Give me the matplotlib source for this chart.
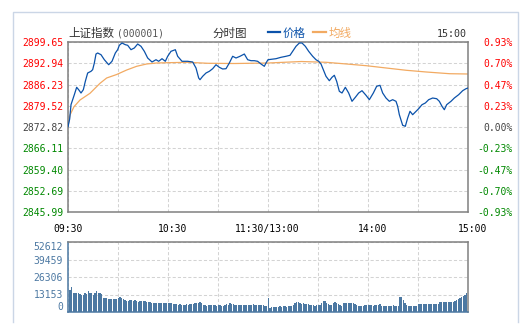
import matplotlib
matplotlib.use("Agg")
import matplotlib.pyplot as plt
from matplotlib.lines import Line2D
import matplotlib.transforms as mtransforms

# ---------------- data ----------------
price_minutes = [0, 1, 1.8, 3.8, 5.2, 6.4, 7.8, 9.2, 10.4, 11.8,
                 13.8, 14.8, 15.8, 16.8, 17.8, 19.8, 21.8, 24.4, 26.4, 28.4,
                 29.8, 30.8, 32.4, 34.4, 35.8, 37.8, 39.8, 41.8, 43.8, 45.8,
                 47.8, 50.4, 52.8, 54.4, 56.4, 58.4, 59.8, 61.8, 64.4, 65.8,
                 68.4, 71.8, 74.8, 76.8, 78.4, 79.2, 80.8, 82.8, 84.8, 86.8,
                 88.8, 90.8, 92.8, 94.8, 96.8, 98.8, 100.8, 103.2, 105.8, 107.8,
                 109.8, 111.8, 113.8, 115.8, 117.8, 118.8, 120, 124.8, 127.8, 130.8,
                 133.2, 134.8, 136.8, 138.8, 140.4, 142.4, 144.4, 146.8, 148.8, 150.4,
                 151.8, 153.2, 154.8, 156.8, 158.4, 159.8, 161.2, 162.8, 164.4, 166.4,
                 168.4, 170.4, 172.4, 174.4, 176.4, 178.8, 180.8, 183.2, 185.2, 187.2,
                 188.8, 190.8, 192.8, 194.8, 196.8, 197.8, 198.8, 200.8, 202.4, 203.8,
                 205.2, 206.8, 208.8, 210.4, 212.4, 214.4, 216.4, 218.8, 221.2, 222.8,
                 224.4, 225.8, 227.2, 229.8, 231.8, 234.4, 236.8, 238.8, 240]
price_values = [2872.90, 2875.35, 2879.86, 2883.02, 2885.35, 2884.59, 2883.55, 2884.59, 2887.24, 2889.86,
                2890.40, 2890.91, 2893.02, 2895.86, 2896.18, 2895.64, 2894.06, 2892.48, 2893.56, 2896.18,
                2897.22, 2898.61, 2899.33, 2898.80, 2898.61, 2897.22, 2897.76, 2899.02, 2898.29, 2896.71,
                2894.60, 2893.34, 2894.06, 2893.56, 2894.38, 2893.56, 2895.14, 2896.71, 2897.22, 2895.14,
                2893.56, 2893.56, 2893.34, 2891.44, 2888.29, 2887.75, 2888.82, 2889.86, 2890.40, 2891.22,
                2892.48, 2891.66, 2891.13, 2891.22, 2893.02, 2895.14, 2894.60, 2895.14, 2895.86, 2894.06,
                2893.75, 2893.75, 2893.56, 2892.71, 2891.98, 2893.02, 2894.06, 2894.38, 2894.82, 2895.14,
                2895.45, 2896.71, 2898.29, 2899.33, 2899.33, 2898.29, 2896.71, 2895.14, 2894.06, 2893.56,
                2892.71, 2890.91, 2888.82, 2887.43, 2888.51, 2889.14, 2887.24, 2884.09, 2883.55, 2885.35,
                2883.55, 2880.93, 2882.19, 2883.55, 2884.28, 2882.83, 2881.44, 2883.55, 2885.67, 2885.98,
                2883.55, 2881.97, 2880.93, 2881.44, 2880.93, 2879.35, 2876.70, 2873.36, 2873.04, 2875.66,
                2877.78, 2876.70, 2877.78, 2878.60, 2879.86, 2880.40, 2881.44, 2881.97, 2881.75, 2880.93,
                2879.35, 2878.28, 2879.86, 2880.93, 2881.97, 2883.02, 2884.28, 2884.91, 2885.13]

avg_minutes = [0, 1.2, 3.6, 7.2, 13.2, 19.2, 23.2, 29.2, 35.2, 41.2, 47.2, 53.2, 60,
               72, 84, 100, 120, 140, 155, 167, 179, 191, 203, 215, 229, 240]
avg_values = [2873.14, 2876.61, 2879.23, 2881.34, 2883.46, 2886.61, 2888.29, 2889.39, 2890.81,
              2891.98, 2892.71, 2893.02, 2893.12, 2893.24, 2892.93, 2892.86, 2893.02, 2893.49,
              2893.24, 2892.71, 2892.17, 2891.44, 2890.72, 2890.18, 2889.64, 2889.55]

volumes = [16500, 18500, 14000, 14000, 14200, 14200, 13500, 12800, 12800, 14000,
           13300, 15800, 14500, 14000, 12800, 14000, 15800, 14500, 14000, 13300,
           10800, 10300, 10300, 9800, 9800, 9500, 9500, 9500, 9500, 10300,
           11500, 10800, 9500, 9000, 8300, 8500, 9000, 9000, 8500, 9000,
           8500, 7800, 8500, 8300, 8300, 8300, 7800, 7800, 7800, 7000,
           6500, 6500, 6500, 6500, 7000, 6500, 7000, 6500, 7000, 6500,
           7000, 7000, 6000, 6000, 6000, 5300, 6000, 5300, 5300, 5300,
           6000, 5300, 6000, 6000, 6000, 6500, 6500, 7000, 7800, 6500,
           5300, 5300, 4500, 5300, 5300, 5300, 5300, 5300, 4500, 5300,
           5300, 4500, 4500, 5300, 6000, 5300, 6500, 6000, 6000, 5300,
           5300, 5000, 5300, 5600, 5300, 5000, 5300, 5300, 5600, 5300,
           6000, 5300, 5000, 5300, 5300, 5600, 5300,
           4500, 4500, 10300,
           2800, 3500, 3500, 4000, 3500, 4000, 4500, 4000, 4500, 4500,
           4000, 4500, 4500, 4500, 5500, 7000, 7800, 7800, 7000, 6000,
           6500, 6000, 6000, 6000, 5300, 5300, 5300, 4500, 5300, 5300,
           5300, 7000, 8300, 8300, 6500, 6000, 5300, 5300, 6500, 7800,
           7000, 6000, 5300, 4500, 7000, 7000, 7000, 7000, 7000, 7000,
           7000, 6000, 5300, 4500, 4500, 4500, 4500, 5300, 5300, 5300,
           5300, 5300, 4500, 5300, 5300, 5300, 6000, 4500, 4500, 4500,
           4500, 4500, 4500, 4500, 5300, 4500, 4500, 4500, 11500, 11500,
           9000, 7000, 5300, 4500, 4500, 4500, 4500, 4500, 4500, 6000,
           6000, 6000, 6000, 6000, 6000, 6000, 6000, 6000, 6000, 6000,
           6000, 6000, 7800, 7800, 7800, 7800, 7800, 7800, 7800, 7800,
           7800, 8300, 9000, 9500, 10300, 11500, 12000, 12800, 14500]

price_ticks = [2899.65, 2892.94, 2886.23, 2879.52, 2872.82, 2866.11, 2859.40, 2852.69, 2845.99]
pct_labels = ['0.93%', '0.70%', '0.47%', '0.23%', '0.00%', '-0.23%', '-0.47%', '-0.70%', '-0.93%']
prev_close = 2872.82
vol_ticks = [0, 13153, 26306, 39459, 52612]
grid_minutes = [0, 30, 60, 90, 120, 150, 180, 210, 240]
time_labels = ['09:30', '10:30', '11:30/13:00', '14:00', '15:00']
time_label_minutes = [0, 60, 120, 180, 240]

# ---------------- style ----------------
W, H = 528, 331
BLUE = '#0b52aa'
ORANGE = '#f2aa62'
RED = '#ff0000'
GREEN = '#008800'
GRAYTXT = '#444444'
VOLC = '#4c78a2'
SPINE = '#808080'
GRID = '#d3d3d3'
MONO = 'DejaVu Sans Mono'
CJK = ['Noto Sans CJK SC', 'DejaVu Sans']

fig = plt.figure(figsize=(W / 100, H / 100), dpi=100)
fig.patch.set_facecolor('white')


def fx(px):
    return px / W


def fy(py):
    return 1 - py / H


# outer frame (open at the bottom)
fig.add_artist(Line2D([fx(13), fx(13), fx(518), fx(518)], [fy(322), fy(12), fy(12), fy(322)],
                      transform=fig.transFigure, color='#cbd6e6', lw=1.0))

ax = fig.add_axes([fx(68), fy(212), 400 / W, 170 / H])
axv = fig.add_axes([fx(68), fy(312), 400 / W, 70 / H])

# ---- main price panel ----
ax.plot(price_minutes, price_values, color=BLUE, lw=0.9, zorder=3)
ax.plot(avg_minutes, avg_values, color=ORANGE, lw=0.9, zorder=2)
ax.set_xlim(0, 240)
ax.set_ylim(price_ticks[-1], price_ticks[0])
ax.set_xticks(grid_minutes)
ax.tick_params(axis='x', length=0, labelbottom=False)
ax.set_yticks(price_ticks)
ax.set_yticklabels([f'{v:.2f}' for v in price_ticks])
ax.tick_params(axis='y', length=0, pad=3.6, labelsize=7)
for lbl, v in zip(ax.get_yticklabels(), price_ticks):
    lbl.set_fontfamily(MONO)
    lbl.set_color(RED if v > prev_close + 0.001 else (GREEN if v < prev_close - 0.001 else GRAYTXT))
ax.grid(True, color=GRID, linestyle=(0, (3, 2)), lw=0.75)
ax.set_axisbelow(True)
for s in ax.spines.values():
    s.set_color(SPINE)
    s.set_linewidth(1.1)

ax2 = ax.twinx()
ax2.set_ylim(price_ticks[-1], price_ticks[0])
ax2.set_yticks(price_ticks)
ax2.set_yticklabels(pct_labels)
ax2.tick_params(axis='y', length=0, pad=32, labelsize=7)
for lbl, v in zip(ax2.get_yticklabels(), price_ticks):
    lbl.set_fontfamily(MONO)
    lbl.set_horizontalalignment('right')
    lbl.set_color(RED if v > prev_close + 0.001 else (GREEN if v < prev_close - 0.001 else GRAYTXT))
for s in ax2.spines.values():
    s.set_visible(False)

# time labels
offsets = [0, 5, -1, 5, 5]
for lbl, m, off in zip(time_labels, time_label_minutes, offsets):
    tr = mtransforms.blended_transform_factory(ax.transData, ax.transAxes) + \
        mtransforms.ScaledTranslation(off / 100, 0, fig.dpi_scale_trans)
    ax.text(m, -17 / 170, lbl, transform=tr, ha='center', va='center',
            fontsize=7, family=MONO, color='black', clip_on=False)

# ---- volume panel ----
vol_pos = [i + 1.2 for i in range(len(volumes))]
axv.bar(vol_pos, volumes, width=0.62, color=VOLC, linewidth=0, zorder=3)
axv.set_xlim(0, 240)
axv.set_ylim(0, vol_ticks[-1])
axv.set_xticks(grid_minutes)
axv.tick_params(axis='x', length=0, labelbottom=False)
axv.set_yticks(vol_ticks)
axv.set_yticklabels([str(v) for v in vol_ticks])
axv.tick_params(axis='y', length=0, pad=3.6, labelsize=7, labelcolor=VOLC)
vlabels = axv.get_yticklabels()
for i, lbl in enumerate(vlabels):
    lbl.set_fontfamily(MONO)
    if i == 0:
        lbl.set_verticalalignment('bottom')
    elif i == len(vlabels) - 1:
        lbl.set_verticalalignment('top')
axv.grid(True, color=GRID, linestyle=(0, (3, 2)), lw=0.75)
axv.set_axisbelow(True)
axv.spines['left'].set_color(VOLC)
axv.spines['bottom'].set_color(VOLC)
axv.spines['top'].set_color(SPINE)
axv.spines['right'].set_color(SPINE)
for s in axv.spines.values():
    s.set_linewidth(1.1)

# ---- header ----
fig.text(fx(68), fy(33), '上证指数', family=CJK, fontsize=8.3, color='#333333', va='center', ha='left')
fig.text(fx(117), fy(33), '(000001)', family=MONO, fontsize=7, color='#555555', va='center', ha='left')
fig.text(fx(230), fy(33), '分时图', family=CJK, fontsize=8.3, color='#333333', va='center', ha='center')
fig.add_artist(Line2D([fx(268), fx(280)], [fy(32), fy(32)], transform=fig.transFigure, color=BLUE, lw=1.6))
fig.text(fx(283), fy(33), '价格', family=CJK, fontsize=8.3, color=BLUE, va='center', ha='left')
fig.add_artist(Line2D([fx(313), fx(326)], [fy(32), fy(32)], transform=fig.transFigure, color=ORANGE, lw=1.6))
fig.text(fx(329), fy(33), '均线', family=CJK, fontsize=8.3, color=ORANGE, va='center', ha='left')
fig.text(fx(467), fy(34), '15:00', family=MONO, fontsize=7.2, color='#333333', va='center', ha='right')

fig.savefig('out.png', dpi=100, facecolor='white')
